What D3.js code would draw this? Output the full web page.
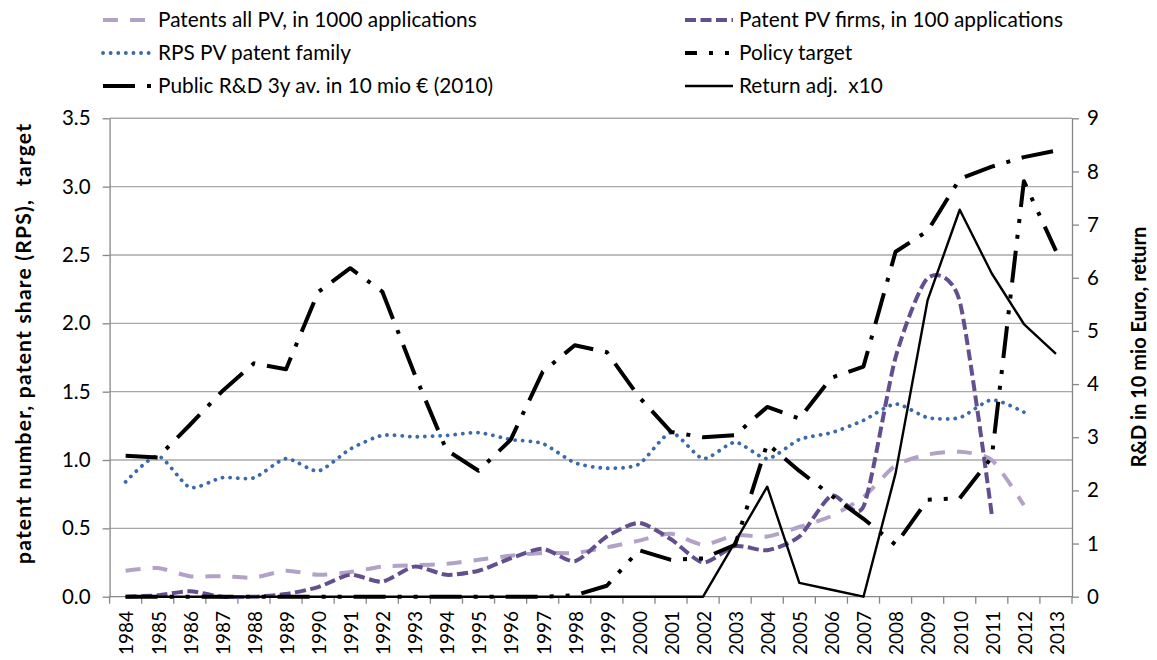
<!DOCTYPE html>
<html><head><meta charset="utf-8">
<script src="https://cdn.jsdelivr.net/npm/d3@7/dist/d3.min.js"></script>
<style>
body{margin:0;background:#fff}
text{font-family:Lato,"Open Sans",sans-serif;fill:#000}
</style>
</head><body>
<svg id="chart" width="1157" height="660"></svg>
<script>
// ---------------- data ----------------
const years = [1984,1985,1986,1987,1988,1989,1990,1991,1992,1993,1994,1995,1996,1997,1998,
               1999,2000,2001,2002,2003,2004,2005,2006,2007,2008,2009,2010,2011,2012,2013];
// left axis series
const patentsAllPV = [0.19,0.21,0.15,0.15,0.14,0.19,0.16,0.18,0.22,0.23,0.24,0.27,0.30,0.32,0.32,
                      0.36,0.41,0.46,0.38,0.45,0.44,0.51,0.59,0.73,0.96,1.04,1.06,1.00,0.67,null];
const patentPVFirms = [0.00,0.01,0.04,0.00,0.00,0.02,0.07,0.16,0.11,0.22,0.16,0.19,0.28,0.35,0.26,
                       0.44,0.54,0.42,0.25,0.37,0.34,0.44,0.74,0.66,1.75,2.33,2.16,0.60,null,null];
const rpsPatentFamily = [0.84,1.03,0.80,0.87,0.87,1.01,0.92,1.08,1.18,1.17,1.18,1.20,1.15,1.12,0.98,
                         0.94,0.97,1.20,1.01,1.13,1.01,1.15,1.20,1.29,1.41,1.31,1.31,1.44,1.35,null];
const policyTarget = [0,0,0,0,0,0,0,0,0,0,0,0,0,0,0.01,
                      0.08,0.34,0.27,0.28,0.38,1.12,0.92,0.74,0.57,0.38,0.71,0.72,1.02,3.04,2.53];
// right axis series
const publicRD = [2.65,2.62,3.23,3.86,4.39,4.28,5.73,6.18,5.74,4.20,2.76,2.37,2.95,4.23,4.73,
                  4.60,3.76,3.10,3.00,3.04,3.57,3.35,4.12,4.33,6.49,6.88,7.86,8.09,8.27,8.39];
const returnAdj = [0,0,0,0,0,0,0,0,0,0,0,0,0,0,0,
                   0,0,0,0,1.03,2.07,0.26,0.13,0,2.32,5.58,7.28,6.08,5.13,4.57];
// ticks / labels
const leftTicks = [0,0.5,1.0,1.5,2.0,2.5,3.0,3.5];
const rightTicks = [0,1,2,3,4,5,6,7,8,9];
const leftTitle = "patent number, patent share (RPS),  target";
const rightTitle = "R&D in 10 mio Euro, return";

// ---------------- layout ----------------
const svg = d3.select("#chart");
const X0 = 109.6, X1 = 1072, Y0 = 596.7, Y1 = 118.3;

const x = d3.scaleBand().domain(years).range([X0, X1]).padding(0);
const cx = d => x(d) + x.bandwidth() / 2;
const yL = d3.scaleLinear().domain([0, 3.5]).range([Y0, Y1]);
const yR = d3.scaleLinear().domain([0, 9]).range([Y0, Y1]);

const series = [
  {name:"Patents all PV, in 1000 applications", values:patentsAllPV, axis:yL, color:"#b3a2c7", width:4, dash:"15,12", cap:"butt", curve:d3.curveCardinal.tension(0.3), col:0,row:0},
  {name:"Patent PV firms, in 100 applications", values:patentPVFirms, axis:yL, color:"#634f8e", width:4, dash:"11,4.5", cap:"butt", curve:d3.curveCardinal.tension(0.3), col:1,row:0},
  {name:"RPS PV patent family", values:rpsPatentFamily, axis:yL, color:"#3a6aaa", width:3.8, dash:"0.1,7.5", cap:"round", curve:d3.curveCardinal.tension(0.3), col:0,row:1},
  {name:"Policy target", values:policyTarget, axis:yL, color:"#000", width:4, dash:"32,12,4,12,4,12", cap:"butt", curve:d3.curveLinear, col:1,row:1, legOffset:20},
  {name:"Public R&D 3y av. in 10 mio € (2010)", values:publicRD, axis:yR, color:"#000", width:4, dash:"32,12,4,12", cap:"butt", curve:d3.curveLinear, col:0,row:2},
  {name:"Return adj.  x10", values:returnAdj, axis:yR, color:"#000", width:2.4, dash:null, cap:"butt", curve:d3.curveLinear, col:1,row:2}
];

// gridlines
svg.append("g").selectAll("line").data(leftTicks.filter(t => t > 0)).join("line")
  .attr("x1", X0).attr("x2", X1)
  .attr("y1", d => yL(d)).attr("y2", d => yL(d))
  .attr("stroke", "#a9a9a9").attr("stroke-width", 1.4);

// left axis
const gL = svg.append("g").attr("transform", `translate(${X0},0)`)
  .call(d3.axisLeft(yL).tickValues(leftTicks).tickFormat(d3.format(".1f")).tickSize(7).tickSizeOuter(0).tickPadding(12));
// right axis
const gR = svg.append("g").attr("transform", `translate(${X1},0)`)
  .call(d3.axisRight(yR).tickValues(rightTicks).tickFormat(d3.format("d")).tickSize(7).tickSizeOuter(0).tickPadding(8));
[gL, gR].forEach(g => {
  g.select(".domain").attr("stroke", "#868686").attr("stroke-width", 1.3);
  g.selectAll(".tick line").attr("stroke", "#868686").attr("stroke-width", 1.3);
  g.selectAll(".tick text").attr("font-size", 20.5).attr("font-family", "Lato").attr("fill", "#000");
});

// bottom axis
const gB = svg.append("g");
gB.append("line").attr("x1", X0).attr("x2", X1).attr("y1", Y0).attr("y2", Y0)
  .attr("stroke", "#868686").attr("stroke-width", 1.3);
gB.selectAll("line.tk").data(years.map(d => x(d)).concat([X1])).join("line").attr("class","tk")
  .attr("x1", d => d).attr("x2", d => d).attr("y1", Y0).attr("y2", Y0 + 7)
  .attr("stroke", "#868686").attr("stroke-width", 1.3);
gB.selectAll("text").data(years).join("text")
  .attr("transform", d => `translate(${cx(d) + 1},611) rotate(-90)`)
  .attr("text-anchor", "end").attr("dy", "0.36em")
  .attr("font-size", 19).text(d => d);

// series lines
const plot = svg.append("g");
series.forEach(s => {
  const line = d3.line()
    .defined(d => d.v !== null)
    .x(d => cx(d.year)).y(d => s.axis(d.v))
    .curve(s.curve);
  const pts = years.map((yr, i) => ({year: yr, v: s.values[i]}));
  plot.append("path").datum(pts)
    .attr("d", line).attr("fill", "none")
    .attr("stroke", s.color).attr("stroke-width", s.width)
    .attr("stroke-dasharray", s.dash).attr("stroke-linecap", s.cap)
    .attr("stroke-linejoin", "round");
});

// axis titles
svg.append("text").attr("transform", `translate(24,344) rotate(-90)`)
  .attr("text-anchor", "middle").attr("dy", "0.35em")
  .attr("font-size", 21).attr("font-weight", "bold").style("white-space", "pre")
  .attr("textLength", 440).attr("lengthAdjust", "spacing").text(leftTitle);
svg.append("text").attr("transform", `translate(1139,347) rotate(-90)`)
  .attr("text-anchor", "middle").attr("dy", "0.35em")
  .attr("font-size", 20).attr("font-weight", "bold").text(rightTitle);

// legend
const legColX = [103, 685], legTextX = [158, 739], legRowY = [20, 53, 86];
const leg = svg.append("g");
series.forEach(s => {
  const lx = legColX[s.col], ly = legRowY[s.row];
  leg.append("line").attr("x1", lx).attr("x2", lx + 48).attr("y1", ly).attr("y2", ly)
    .attr("stroke", s.color).attr("stroke-width", s.width)
    .attr("stroke-dasharray", s.dash).attr("stroke-dashoffset", s.legOffset || 0)
    .attr("stroke-linecap", s.cap);
  leg.append("text").attr("x", legTextX[s.col]).attr("y", ly).attr("dy", "0.35em")
    .attr("font-size", 20.8).style("white-space", "pre").text(s.name);
});
</script>
</body></html>
